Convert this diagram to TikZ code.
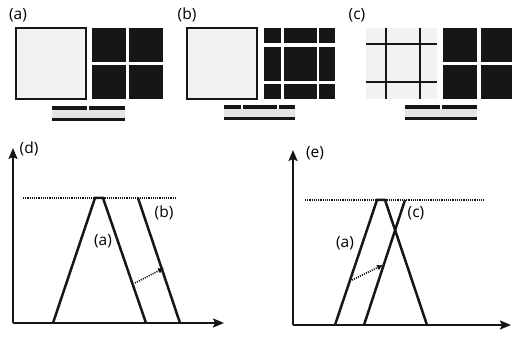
\documentclass[tikz,border=0pt]{standalone}
\usepackage{fontspec}
\setmainfont{Open Sans}
\usetikzlibrary{arrows,arrows.meta,positioning}
\definecolor{ink}{HTML}{161616}
\definecolor{sheetgray}{HTML}{F3F2F2}
\definecolor{bandgray}{HTML}{E4E4E4}
\tikzstyle{sheet}=[fill=sheetgray,draw=ink,line width=1.2pt]
\tikzstyle{blk}=[fill=ink]
\tikzstyle{band}=[fill=bandgray]
\tikzstyle{lbl}=[font=\fontsize{15.5}{17}\selectfont,inner sep=0pt]
\tikzstyle{axis}=[-{Stealth[length=11pt,width=9pt,inset=2pt]},line width=2pt,ink]
\tikzstyle{edge}=[line width=2.5pt,ink]
\tikzstyle{lvl}=[line width=2pt,ink,dash pattern=on 1.1pt off 1.1pt]
\tikzstyle{mv}=[-{Latex[length=6pt,width=6pt]},line width=1.6pt,ink,dash pattern=on 1.1pt off 1.1pt]

\begin{document}
\begin{tikzpicture}[x=1pt,y=-1pt]
\useasboundingbox (0,0) rectangle (512,339);
% panel (a)
\node (la) [lbl] at (18,15) {(a)};
\draw [sheet] (16,28) rectangle (86,99);
\foreach \x/\xx in {92/126,129/163}
  \foreach \y/\yy in {28/62,65/99}
    \fill [blk] (\x,\y) rectangle (\xx,\yy);
\fill [blk] (52,106) rectangle (87,110);
\fill [blk] (89,106) rectangle (125,110);
\fill [band] (52,110) rectangle (125,118);
\fill [blk] (52,118) rectangle (125,121);
% panel (b)
\node (lb) [lbl] at (187,15) {(b)};
\draw [sheet] (187,28) rectangle (257,99);
\foreach \x/\xx in {264/281,284/317,319/335}
  \foreach \y/\yy in {28/43,47/81,84/99}
    \fill [blk] (\x,\y) rectangle (\xx,\yy);
\fill [blk] (224,105) rectangle (241,109);
\fill [blk] (243,105) rectangle (277,109);
\fill [blk] (279,105) rectangle (295,109);
\fill [band] (224,109) rectangle (295,117);
\fill [blk] (224,117) rectangle (295,120);
% panel (c)
\node (lc) [lbl] at (357,15) {(c)};
\fill [sheetgray] (366,28) rectangle (437,99);
\foreach \x in {386,420}
  \draw [edge] (\x,28) -- (\x,99);
\foreach \y in {44,82}
  \draw [edge] (366,\y) -- (437,\y);
\foreach \x/\xx in {443/477,481/513}
  \foreach \y/\yy in {28/62,65/99}
    \fill [blk] (\x,\y) rectangle (\xx,\yy);
\fill [blk] (405,105) rectangle (440,109);
\fill [blk] (442,105) rectangle (477,109);
\fill [band] (405,109) rectangle (477,117);
\fill [blk] (405,117) rectangle (477,120);
% panel (d)
\coordinate (d0) at (13,323);
\coordinate (dY) at (13,148);
\coordinate (dX) at (224,323);
\coordinate (dL) at (23,198);
\coordinate (dR) at (176,198);
\coordinate (da1) at (53,323);
\coordinate (da2) at (95,198);
\coordinate (da3) at (103,198);
\coordinate (da4) at (146,323);
\coordinate (db1) at (138,198);
\coordinate (db2) at (180,323);
\coordinate (ds) at (135,283);
\coordinate (dt) at (164,268);
\draw [axis] (d0) -- (dY);
\draw [axis] (d0) -- (dX);
\draw [lvl] (dL) -- (dR);
\draw [edge] (da1) -- (da2) -- (da3) -- (da4);
\draw [edge] (db1) -- (db2);
\draw [mv] (ds) -- (dt);
\node (ld) [lbl] at (29,149) {(d)};
\node (lda) [lbl] at (103,241) {(a)};
\node (ldb) [lbl] at (164,213) {(b)};
% panel (e)
\coordinate (e0) at (293,325);
\coordinate (eY) at (293,150);
\coordinate (eX) at (511,325);
\coordinate (eL) at (305,200);
\coordinate (eR) at (485,200);
\coordinate (ea1) at (335,325);
\coordinate (ea2) at (377,200);
\coordinate (ea3) at (385,200);
\coordinate (ea4) at (427,325);
\coordinate (ec1) at (364,325);
\coordinate (ec2) at (405,200);
\coordinate (es) at (352,280);
\coordinate (et) at (383,265);
\draw [axis] (e0) -- (eY);
\draw [axis] (e0) -- (eX);
\draw [lvl] (eL) -- (eR);
\draw [edge] (ea1) -- (ea2) -- (ea3) -- (ea4);
\draw [edge] (ec1) -- (ec2);
\draw [mv] (es) -- (et);
\node (le) [lbl] at (315,153) {(e)};
\node (lea) [lbl] at (345,243) {(a)};
\node (lec) [lbl] at (416,213) {(c)};
\end{tikzpicture}
\end{document}
